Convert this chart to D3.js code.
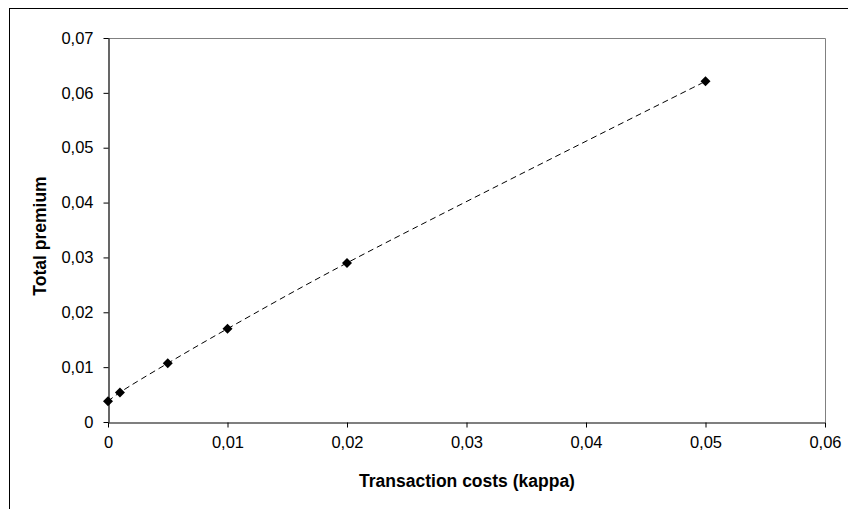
<!DOCTYPE html>
<html>
<head>
<meta charset="utf-8">
<script src="https://cdn.jsdelivr.net/npm/d3@7/dist/d3.min.js"></script>
<style>
  html, body { margin: 0; padding: 0; background: #fff; }
  svg { display: block; font-family: "Liberation Sans", Arial, sans-serif; }
</style>
</head>
<body>
<svg id="chart" width="848" height="509"></svg>
<script>
// Total premium as a function of transaction costs
const kappa = [0, 0.001, 0.005, 0.01, 0.02, 0.05];
const premium = [0.0038, 0.0054, 0.0107, 0.0170, 0.0290, 0.0621];
const xTicks = [0, 0.01, 0.02, 0.03, 0.04, 0.05, 0.06];
const yTicks = [0, 0.01, 0.02, 0.03, 0.04, 0.05, 0.06, 0.07];
const xTitle = "Transaction costs (kappa)";
const yTitle = "Total premium";

const svg = d3.select("#chart");
const W = 848, H = 509;
const plot = { left: 108, top: 38, right: 825, bottom: 422 };

const fmt = v => v === 0 ? "0" : d3.format(".2f")(v).replace(".", ",");

const x = d3.scaleLinear().domain([0, 0.06]).range([plot.left, plot.right]);
const y = d3.scaleLinear().domain([0, 0.07]).range([plot.bottom, plot.top]);

// outer chart frame
svg.append("rect")
  .attr("x", 9.5).attr("y", 8.5)
  .attr("width", W + 20).attr("height", H + 20)
  .attr("fill", "#fff").attr("stroke", "#000").attr("stroke-width", 1);

// plot area border (top and right)
svg.append("path")
  .attr("d", `M${plot.left},${plot.top + 0.5}H${plot.right + 0.5}V${plot.bottom}`)
  .attr("fill", "none").attr("stroke", "#808080").attr("stroke-width", 1);

// axes
const xAxis = d3.axisBottom(x).tickValues(xTicks).tickFormat(fmt).tickSize(5).tickSizeOuter(0).tickPadding(9);
const yAxis = d3.axisLeft(y).tickValues(yTicks).tickFormat(fmt).tickSize(5).tickSizeOuter(0).tickPadding(10);

const gx = svg.append("g").attr("transform", `translate(0,${plot.bottom + 0.5})`).call(xAxis);
const gy = svg.append("g").attr("transform", `translate(${plot.left + 0.5},0)`).call(yAxis);

[gx, gy].forEach(g => {
  g.select(".domain").attr("stroke", "#000").attr("stroke-width", 1.2);
  g.selectAll(".tick line").attr("stroke", "#000");
  g.selectAll(".tick text")
    .attr("fill", "#000")
    .style("font-size", "16.5px")
    .style("font-family", "'Liberation Sans', Arial, sans-serif");
});

// axis titles
svg.append("text")
  .attr("x", 467).attr("y", 487)
  .attr("text-anchor", "middle")
  .style("font-size", "17.5px").style("font-weight", "bold")
  .text(xTitle);

svg.append("text")
  .attr("transform", `translate(46,236) rotate(-90)`)
  .attr("text-anchor", "middle")
  .style("font-size", "17.5px").style("font-weight", "bold")
  .text(yTitle);

// smoothed dashed line through the points
const pts = kappa.map((k, i) => [k, premium[i]]);
const line = d3.line()
  .x(d => x(d[0])).y(d => y(d[1]))
  .curve(d3.curveCatmullRom.alpha(0.5));

svg.append("path")
  .datum(pts)
  .attr("d", line)
  .attr("fill", "none")
  .attr("stroke", "#000")
  .attr("stroke-width", 1)
  .attr("stroke-dasharray", "6,4");

// diamond markers
svg.append("g").selectAll("path")
  .data(pts)
  .join("path")
  .attr("transform", d => `translate(${x(d[0])},${y(d[1])})`)
  .attr("d", "M0,-5L5,0L0,5L-5,0Z")
  .attr("fill", "#000");
</script>
</body>
</html>
